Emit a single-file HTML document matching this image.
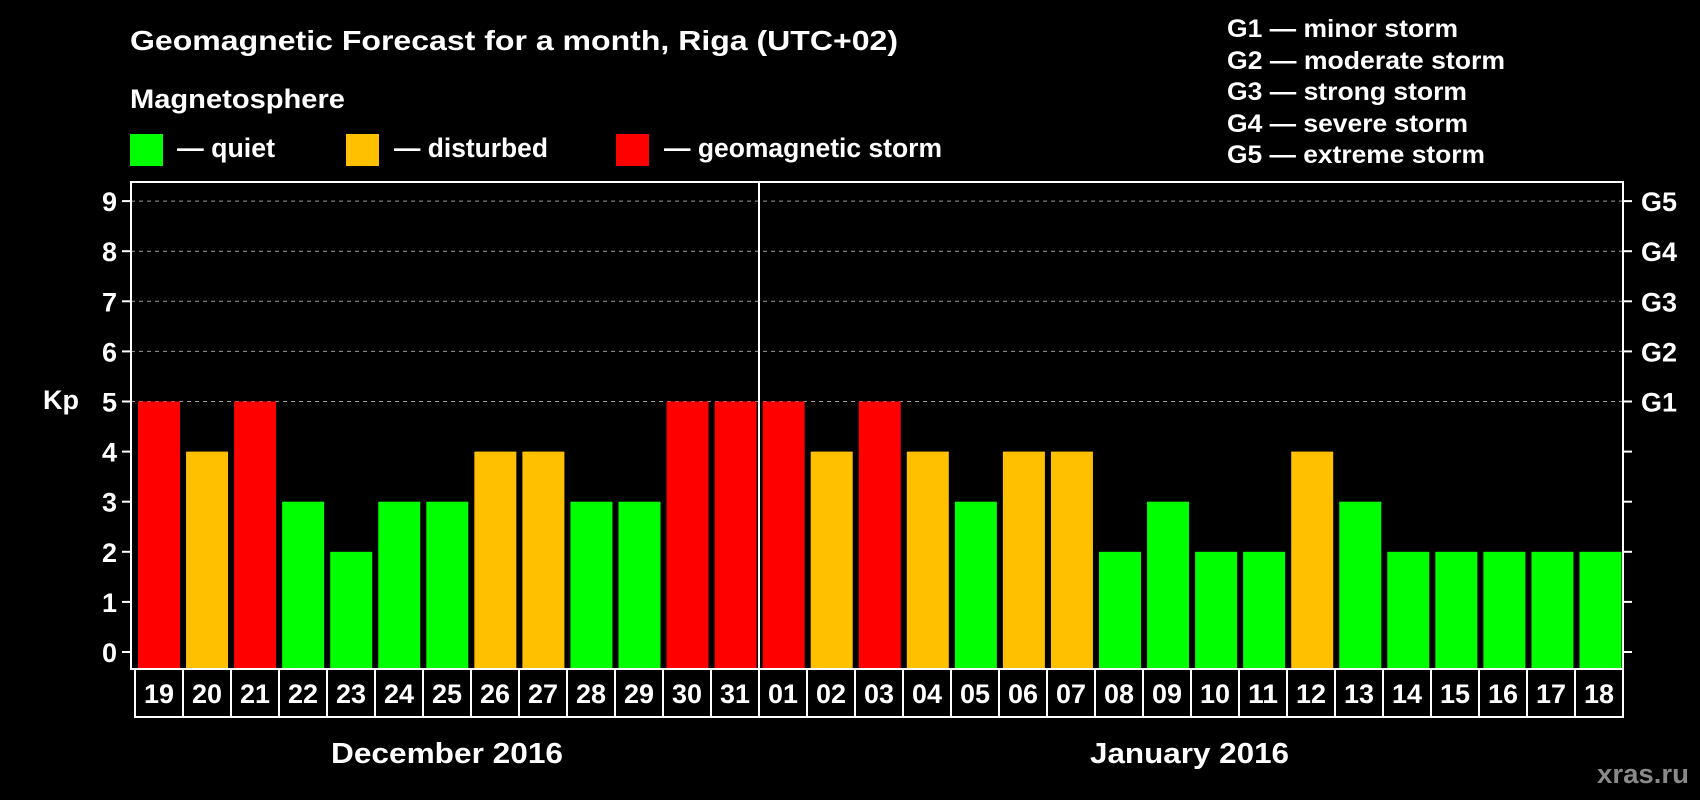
<!DOCTYPE html>
<html><head><meta charset="utf-8"><style>
html,body{margin:0;padding:0;background:#000;}
svg{display:block;}
text{font-family:"Liberation Sans",Arial,sans-serif;font-weight:bold;fill:#fff;}
</style></head><body>
<svg id="chart" width="1700" height="800" viewBox="0 0 1700 800" xmlns="http://www.w3.org/2000/svg">
<rect x="0" y="0" width="1700" height="800" fill="#000"/>
<text x="130" y="50" font-size="28" textLength="768" lengthAdjust="spacingAndGlyphs">Geomagnetic Forecast for a month, Riga (UTC+02)</text>
<text x="130" y="108" font-size="27" textLength="215" lengthAdjust="spacingAndGlyphs">Magnetosphere</text>
<g>
<rect x="130" y="134" width="33" height="32" fill="#00ff00"/>
<text x="177" y="157" font-size="27" textLength="98" lengthAdjust="spacingAndGlyphs">— quiet</text></g>
<g>
<rect x="346" y="134" width="33" height="32" fill="#ffc000"/>
<text x="394" y="157" font-size="27" textLength="154" lengthAdjust="spacingAndGlyphs">— disturbed</text></g>
<g>
<rect x="616" y="134" width="33" height="32" fill="#ff0000"/>
<text x="664" y="157" font-size="27" textLength="278" lengthAdjust="spacingAndGlyphs">— geomagnetic storm</text></g>
<g font-size="25">
<text x="1227" y="37" textLength="231" lengthAdjust="spacingAndGlyphs">G1 — minor storm</text>
<text x="1227" y="69" textLength="278" lengthAdjust="spacingAndGlyphs">G2 — moderate storm</text>
<text x="1227" y="100" textLength="240" lengthAdjust="spacingAndGlyphs">G3 — strong storm</text>
<text x="1227" y="132" textLength="241" lengthAdjust="spacingAndGlyphs">G4 — severe storm</text>
<text x="1227" y="163" textLength="258" lengthAdjust="spacingAndGlyphs">G5 — extreme storm</text>
</g>
<text x="43" y="409" font-size="27">Kp</text>
<text x="331" y="763" font-size="29" textLength="232" lengthAdjust="spacingAndGlyphs">December 2016</text>
<text x="1090" y="763" font-size="29" textLength="199" lengthAdjust="spacingAndGlyphs">January 2016</text>
<text x="1597" y="783" font-size="27" style="fill:#8a8a8a" textLength="92" lengthAdjust="spacingAndGlyphs">xras.ru</text>
<g id="plot"></g>
</svg>
<script>
const days = ["19","20","21","22","23","24","25","26","27","28","29","30","31","01","02","03","04","05","06","07","08","09","10","11","12","13","14","15","16","17","18"];
const kpValues = [5,4,5,3,2,3,3,4,4,3,3,5,5,5,4,5,4,3,4,4,2,3,2,2,4,3,2,2,2,2,2];
const yTicks = [0,1,2,3,4,5,6,7,8,9];
const gLabels = ["G1","G2","G3","G4","G5"];
const gLevels = [5,6,7,8,9];

const NS = "http://www.w3.org/2000/svg";
const plot = document.getElementById('plot');
const L = 131, R = 1623, T = 182, B = 669;
function yScale(v){ return 652 - v * 50.1; }
function barX(i){ return 138 + i * 48.05; }
function boxX(i){ return 135 + i * 48; }
function colorFor(v){ return v >= 5 ? '#ff0000' : (v >= 4 ? '#ffc000' : '#00ff00'); }
function mk(tag, attrs){ const e = document.createElementNS(NS, tag); for (const k in attrs) e.setAttribute(k, attrs[k]); plot.appendChild(e); return e; }

// gridlines
gLevels.forEach(v => {
  const g = mk('line', {x1:L, x2:R, y1:yScale(v), y2:yScale(v), stroke:'#9a9a9a', 'stroke-width':1, 'stroke-dasharray':'4,4'});
  
  
});
// bars
kpValues.forEach((v, i) => {
  const b = mk('rect', {x:barX(i), y:yScale(v), width:42, height:B - yScale(v), fill:colorFor(v)});
  
  
});
// frame
const fr = mk('rect', {x:L, y:T, width:R-L, height:B-T, fill:'none', stroke:'#fff', 'stroke-width':2});


const dv = mk('line', {x1:759, x2:759, y1:T, y2:B, stroke:'#fff', 'stroke-width':2});


// y ticks
yTicks.forEach(v => {
  const y = yScale(v);
  const t1 = mk('line', {x1:L-9, x2:L, y1:y, y2:y, stroke:'#fff', 'stroke-width':2});
  
  
  const t2 = mk('line', {x1:R, x2:R+9, y1:y, y2:y, stroke:'#fff', 'stroke-width':2});
  
  
  const lb = mk('text', {x:117, y:y+10, 'font-size':27, 'text-anchor':'end'});
  lb.textContent = v;
  
  
});
gLabels.forEach((g, i) => {
  const lb = mk('text', {x:1641, y:yScale(gLevels[i])+10, 'font-size':27});
  lb.textContent = g;
  
  
});
// date boxes
days.forEach((d, i) => {
  const bx = mk('rect', {x:boxX(i), y:B, width:48, height:48, fill:'none', stroke:'#fff', 'stroke-width':2});
  
  
  const t = mk('text', {x:boxX(i)+24-15, y:B+34, 'font-size':27, textLength:30, lengthAdjust:'spacingAndGlyphs'});
  t.textContent = d;
  
  
});
</script>
</body></html>
